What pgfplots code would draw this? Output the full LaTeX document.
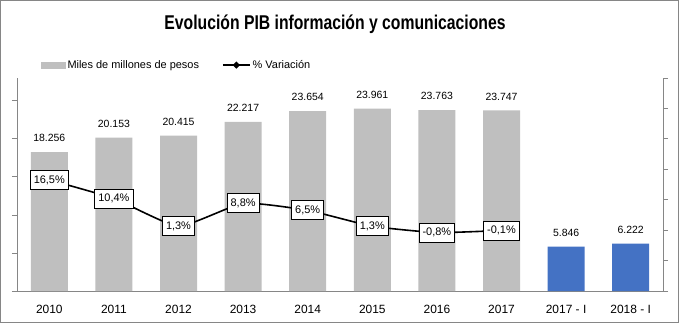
\documentclass[border=0pt]{standalone}
\usepackage{pgfplots}
\pgfplotsset{compat=1.18}
\usepackage{fontspec}
\setmainfont{Liberation Sans}
\usepackage{graphicx}
\definecolor{barGray}{HTML}{BFBFBF}
\definecolor{barBlue}{HTML}{4472C4}
\definecolor{axGray}{HTML}{868686}
\begin{document}
\begin{tikzpicture}[x=1bp,y=1bp]
\useasboundingbox (0,0) rectangle (679,323);
\draw[axGray, line width=1bp] (0.5,0.5) rectangle (678.5,322.5);
\node[font=\bfseries\fontsize{20}{24}\selectfont, anchor=base, inner sep=0pt] at (335,294) {\scalebox{0.79}[1]{Evolución PIB información y comunicaciones}};

\begin{axis}[
  at={(17bp,32bp)}, anchor=south west,
  width=646bp, height=213bp, scale only axis,
  xmin=-0.5, xmax=9.5, ymin=0, ymax=28000,
  scaled y ticks=false,
  axis x line*=bottom, axis y line*=left,
  axis line style={axGray, line width=0.8bp},
  xtick={0,...,9},
  xticklabels={2010,2011,2012,2013,2014,2015,2016,2017,2017 - I,2018 - I},
  x tick style={draw=none},
  ytick={0,5000,10000,15000,20000,25000}, yticklabels={},
  y tick style={axGray, line width=0.8bp},
  tick align=outside, major tick length=5bp,
  ybar, bar width=37bp, bar shift=0pt,
  nodes near coords, point meta=explicit symbolic,
  every node near coord/.append style={font=\fontsize{10.5}{12}\selectfont, inner sep=0pt, anchor=south, yshift=10bp},
  xticklabel style={font=\fontsize{12}{14}\selectfont, anchor=north, inner sep=0pt, yshift=-8.5bp},
  clip=false,
]
\addplot[fill=barGray, draw=none] coordinates {
(0,18256) [18.256]
(1,20153) [20.153]
(2,20415) [20.415]
(3,22217) [22.217]
(4,23654) [23.654]
(5,23961) [23.961]
(6,23763) [23.763]
(7,23747) [23.747]
};
\addplot[fill=barBlue, draw=none] coordinates {
(8,5846) [5.846]
(9,6222) [6.222]
};
\end{axis}

\begin{axis}[
  at={(17bp,32bp)}, anchor=south west,
  width=646bp, height=213bp, scale only axis,
  xmin=-0.5, xmax=9.5, ymin=-20, ymax=50,
  axis y line*=right, axis x line=none,
  axis line style={axGray, line width=0.8bp},
  ytick={-20,-10,0,10,20,30,40,50}, yticklabels={},
  y tick style={axGray, line width=0.8bp},
  tick align=outside, major tick length=5bp,
  clip=false,
  legend columns=2,
  legend style={at={(0.037,1.061)}, anchor=west, draw=none, fill=none, inner sep=0pt,
    font=\fontsize{11}{13}\selectfont,
    /tikz/every even column/.append style={column sep=21bp},
    nodes={inner sep=2bp}},
  legend cell align=left,
]
\addlegendimage{legend image code/.code={\fill[barGray] (0bp,-3bp) rectangle (24bp,3bp);}}
\addlegendentry{Miles de millones de pesos}
\addplot[black, line width=1.6bp, smooth, tension=0.3, mark=diamond*, mark size=2.5bp,
  mark options={solid},
  nodes near coords, point meta=explicit symbolic,
  every node near coord/.style={fill=white, draw=black, line width=0.8bp, anchor=center,
    font=\fontsize{11}{13}\selectfont, inner xsep=3.5bp, inner ysep=0pt, minimum height=19bp},
  legend image code/.code={\draw[black, line width=1.6bp] (0bp,0bp) -- (27bp,0bp);
    \fill[black] (13.5bp,2.5bp) -- (16bp,0bp) -- (13.5bp,-2.5bp) -- (11bp,0bp) -- cycle;}
] coordinates {
(0,16.5) [16,5\%]
(1,10.4) [10,4\%]
(2,1.3) [1,3\%]
(3,8.8) [8,8\%]
(4,6.5) [6,5\%]
(5,1.3) [1,3\%]
(6,-0.8) [-0,8\%]
(7,-0.1) [-0,1\%]
};
\addlegendentry{\% Variación}
\end{axis}
\end{tikzpicture}
\end{document}
